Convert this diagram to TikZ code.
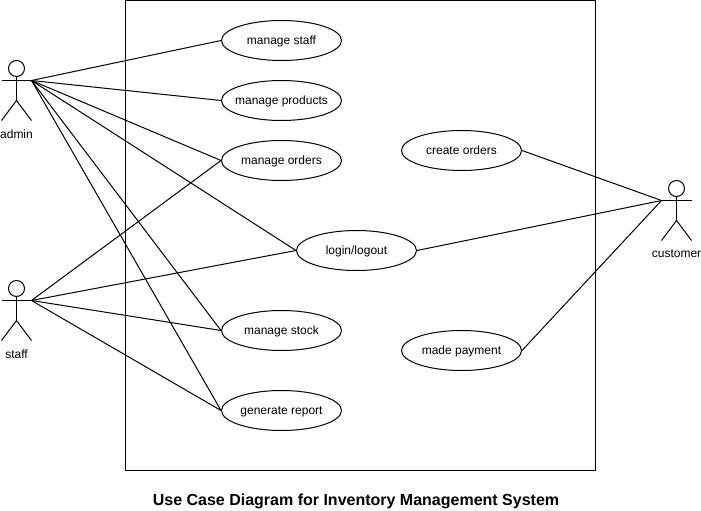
\documentclass[tikz,border=0pt]{standalone}
\usepackage{fontspec}
\setmainfont{Liberation Sans}
\usetikzlibrary{shapes.geometric}
\tikzset{
    usecase/.style={ellipse, draw, line width=1pt, minimum width=120pt, minimum height=40pt, inner xsep=-15pt, inner ysep=0pt, text height=10pt, text depth=2pt, font=\fontsize{12}{14}\selectfont},
    actorlabel/.style={inner sep=0pt, font=\fontsize{12}{14}\selectfont},
    actorhead/.style={circle, draw, line width=1pt, minimum size=16pt, inner sep=0pt}
}
\begin{document}
\begin{tikzpicture}[x=1pt, y=-1pt, line width=1pt]
    \useasboundingbox (0,0) rectangle (701,511);
    \draw (125.5,0.5) rectangle (595.5,470.5);

    \begin{scope}[every node/.style={usecase}]
        \node (staffuc) at (281.5,40.5) {manage staff};
        \node (products) at (281.5,100.5) {manage products};
        \node (orders) at (281.5,160.5) {manage orders};
        \node (login) at (356.5,250.5) {login/logout};
        \node (stock) at (281.5,330.5) {manage stock};
        \node (report) at (281.5,410.5) {generate report};
        \node (create) at (461.5,150.5) {create orders};
        \node (payment) at (461.5,350.5) {made payment};
    \end{scope}

    % admin
    \node [actorhead] (adminhead) at (16.5,68.5) {};
    \coordinate (adminleft) at (1.5,80.5);
    \coordinate (admin) at (31.5,80.5);
    \coordinate (adminhip) at (16.5,100.5);
    \draw (adminleft) -- (admin);
    \draw (adminhead) -- (adminhip);
    \draw (1.5,120.5) -- (adminhip) -- (31.5,120.5);
    \node [actorlabel] (adminname) at (16.5,134) {admin};

    % staff
    \node [actorhead] (staffhead) at (16.5,288.5) {};
    \coordinate (staffleft) at (1.5,300.5);
    \coordinate (staff) at (31.5,300.5);
    \coordinate (staffhip) at (16.5,320.5);
    \draw (staffleft) -- (staff);
    \draw (staffhead) -- (staffhip);
    \draw (1.5,340.5) -- (staffhip) -- (31.5,340.5);
    \node [actorlabel] (staffname) at (16.5,354) {staff};

    % customer
    \node [actorhead] (customerhead) at (676.5,188.5) {};
    \coordinate (customer) at (661.5,200.5);
    \coordinate (customerright) at (691.5,200.5);
    \coordinate (customerhip) at (676.5,220.5);
    \draw (customer) -- (customerright);
    \draw (customerhead) -- (customerhip);
    \draw (661.5,240.5) -- (customerhip) -- (691.5,240.5);
    \node [actorlabel] (customername) at (676.5,254) {customer};

    \begin{scope}
        \draw (admin) -- (staffuc.west);
        \draw (admin) -- (products.west);
        \draw (admin) -- (orders.west);
        \draw (admin) -- (login.west);
        \draw (admin) -- (stock.west);
        \draw (admin) -- (report.west);
        \draw (staff) -- (orders.west);
        \draw (staff) -- (login.west);
        \draw (staff) -- (stock.west);
        \draw (staff) -- (report.west);
        \draw (customer) -- (create.east);
        \draw (customer) -- (login.east);
        \draw (customer) -- (payment.east);
    \end{scope}

    \node [inner sep=0pt, font=\fontsize{16}{18}\selectfont\bfseries] (title) at (356,501) {Use Case Diagram for Inventory Management System};
\end{tikzpicture}
\end{document}
